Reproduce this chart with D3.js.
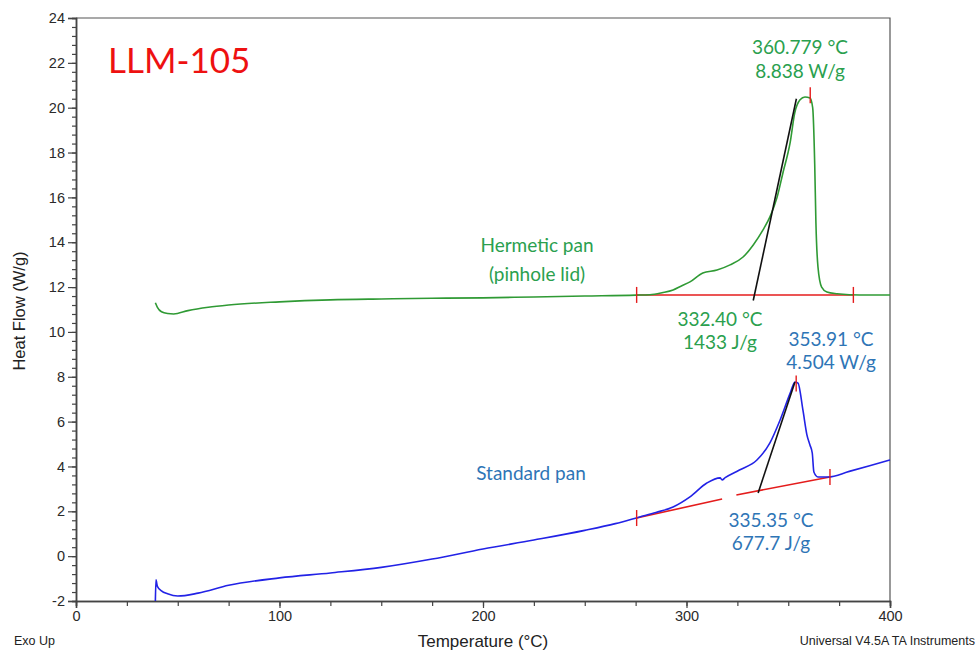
<!DOCTYPE html>
<html>
<head>
<meta charset="utf-8">
<script src="https://cdn.jsdelivr.net/npm/d3@7"></script>
<style>
  body { margin: 0; background: #fff; }
  svg { display: block; }
</style>
</head>
<body>
<svg width="978" height="657"></svg>
<script>
// hermetic pan (pinhole lid) curve
let hermeticTemp = [39, 40, 42, 45, 48, 55, 65, 75, 100, 125, 150, 175, 200, 225, 250, 275, 282, 288, 293.4, 297, 301.7, 308, 315, 321.4, 327.8, 332.8, 337.6, 341, 344.5, 347.4, 350.9, 353.2, 355.8, 358.2, 360.7, 362, 363, 363.6, 364.6, 366.4, 369, 374, 380, 390, 400]
let hermeticFlow = [11.3, 11.1, 10.9, 10.82, 10.8, 10.95, 11.1, 11.2, 11.34, 11.43, 11.47, 11.5, 11.52, 11.56, 11.6, 11.64, 11.66, 11.75, 11.87, 12.03, 12.23, 12.63, 12.76, 12.99, 13.34, 13.88, 14.55, 15.13, 16.0, 17.1, 18.43, 19.77, 20.35, 20.48, 20.43, 20.0, 17.5, 14.86, 12.9, 12.0, 11.78, 11.7, 11.66, 11.65, 11.65]

// standard pan curve
let standardTemp = [39, 39.3, 40, 42, 45, 50, 60, 75, 100, 125, 150, 175, 200, 225, 250, 265, 277, 285, 293.4, 301.7, 310, 316.5, 317.5, 319, 326, 334.6, 341, 346, 351, 353.3, 354.8, 357.2, 359.2, 360.7, 361.8, 362.6, 364.6, 369.5, 380, 390, 400]
let standardFlow = [-2.0, -1.06, -1.35, -1.55, -1.68, -1.78, -1.65, -1.3, -0.97, -0.75, -0.5, -0.13, 0.32, 0.72, 1.15, 1.45, 1.75, 1.95, 2.19, 2.64, 3.26, 3.49, 3.4, 3.5, 3.84, 4.29, 5.05, 6.07, 7.28, 7.77, 7.72, 6.52, 5.4, 4.95, 4.6, 3.75, 3.53, 3.53, 3.78, 4.03, 4.29]

// integration baselines [t1, v1, t2, v2]
let hermeticBaseline = [[275.5, 11.65, 382, 11.65]]
let standardBaseline = [[275.5, 1.7, 317.5, 2.55], [324.5, 2.73, 370.5, 3.53]]
// onset tangents
let hermeticTangent = [332.8, 11.4, 354, 20.4]
let standardTangent = [335.2, 2.82, 353.3, 7.77]
// red marks: [temp, flow]
let hermeticMarks = [[275.5, 11.65], [382, 11.65], [360.8, 20.55]]
let standardMarks = [[275.5, 1.7], [370.5, 3.53], [353.9, 7.7]]

let xTicks = [0, 100, 200, 300, 400]
let yTicks = [-2, 0, 2, 4, 6, 8, 10, 12, 14, 16, 18, 20, 22, 24]

let hermeticLabels = ["Hermetic pan", "(pinhole lid)"]
let hermeticPeakLabels = ["360.779 °C", "8.838 W/g"]
let hermeticOnsetLabels = ["332.40 °C", "1433 J/g"]
let standardLabels = ["Standard pan"]
let standardPeakLabels = ["353.91 °C", "4.504 W/g"]
let standardOnsetLabels = ["335.35 °C", "677.7 J/g"]

const green = "#2f9a34"
const greenText = "#2aa04e"
const blue = "#2222e6"
const blueText = "#2e75b6"
const red = "#e41c1c"
const axisFont = "'Liberation Sans', Arial, sans-serif"

let svg = d3.select("svg")

let xScale = d3.scaleLinear().domain([0, 400]).range([76, 890])
let yScale = d3.scaleLinear().domain([-2, 24]).range([601, 18])

// frame (top and right)
svg.append("path")
    .attr("d", `M${xScale(0)},${yScale(24)}H${xScale(400)}V${yScale(-2)}`)
    .attr("fill", "none")
    .attr("stroke", "#555")
    .attr("stroke-width", 1.2)

// minor ticks
svg.append("g")
    .attr("transform", `translate(0,${yScale(-2)})`)
    .call(d3.axisBottom(xScale).tickValues(d3.range(0, 401, 25)).tickSize(5).tickFormat(""))
svg.append("g")
    .attr("transform", `translate(${xScale(0)},0)`)
    .call(d3.axisLeft(yScale).tickValues(d3.range(-2, 24.01, 0.4)).tickSize(4).tickFormat(""))

// major axes, plain hyphen for negatives
let fmt = d => String(d)
svg.append("g")
    .attr("transform", `translate(0,${yScale(-2)})`)
    .call(d3.axisBottom(xScale).tickValues(xTicks).tickSize(7).tickPadding(3).tickFormat(fmt))
svg.append("g")
    .attr("transform", `translate(${xScale(0)},0)`)
    .call(d3.axisLeft(yScale).tickValues(yTicks).tickSize(8).tickPadding(3).tickFormat(fmt))

svg.selectAll(".domain").attr("stroke", "#444").attr("stroke-width", 1.5)
svg.selectAll(".tick line").attr("stroke", "#444").attr("stroke-width", 1.2)
svg.selectAll(".tick text")
    .attr("fill", "#2a2a2a")
    .style("font-family", axisFont)
    .style("font-size", "14.5px")

// axis titles
svg.append("text")
    .attr("transform", "translate(25,311) rotate(-90)")
    .attr("text-anchor", "middle")
    .style("font-family", axisFont)
    .style("font-size", "16.5px")
    .attr("fill", "#222")
    .text("Heat Flow (W/g)")
svg.append("text")
    .attr("x", 483).attr("y", 647)
    .attr("text-anchor", "middle")
    .style("font-family", axisFont)
    .style("font-size", "17px")
    .attr("fill", "#222")
    .text("Temperature (°C)")
svg.append("text")
    .attr("x", 14).attr("y", 645)
    .style("font-family", axisFont)
    .style("font-size", "12.5px")
    .attr("fill", "#222")
    .text("Exo Up")
svg.append("text")
    .attr("x", 975).attr("y", 645)
    .attr("text-anchor", "end")
    .style("font-family", axisFont)
    .style("font-size", "12.5px")
    .attr("fill", "#222")
    .text("Universal V4.5A TA Instruments")

let line = d3.line()
    .x(d => xScale(d[0]))
    .y(d => yScale(d[1]))
    .curve(d3.curveMonotoneX)

function drawCurve(temps, flows, color) {
    svg.append("path")
        .datum(temps.map((t, i) => [t, flows[i]]))
        .attr("d", line)
        .attr("fill", "none")
        .attr("stroke", color)
        .attr("stroke-width", 1.6)
        .attr("stroke-linejoin", "round")
}

function drawSegments(segs, color) {
    svg.selectAll(null)
        .data(segs)
        .join("line")
        .attr("x1", d => xScale(d[0]))
        .attr("y1", d => yScale(d[1]))
        .attr("x2", d => xScale(d[2]))
        .attr("y2", d => yScale(d[3]))
        .attr("stroke", color)
        .attr("stroke-width", 1.6)
}

function drawMarks(marks) {
    svg.selectAll(null)
        .data(marks)
        .join("line")
        .attr("x1", d => xScale(d[0]))
        .attr("x2", d => xScale(d[0]))
        .attr("y1", d => yScale(d[1]) - 8)
        .attr("y2", d => yScale(d[1]) + 8)
        .attr("stroke", red)
        .attr("stroke-width", 1.4)
}

drawSegments(hermeticBaseline, red)
drawSegments(standardBaseline, red)
drawCurve(hermeticTemp, hermeticFlow, green)
drawCurve(standardTemp, standardFlow, blue)
drawSegments([hermeticTangent, standardTangent], "#111")
drawMarks(hermeticMarks)
drawMarks(standardMarks)

// text labels, lines stacked
function drawLabel(lines, cx, cy, color, gap) {
    svg.append("text")
        .attr("text-anchor", "middle")
        .attr("fill", color)
        .style("font-family", "Lato, 'Open Sans', sans-serif")
        .style("font-size", "19px")
        .selectAll("tspan")
        .data(lines)
        .join("tspan")
        .attr("x", cx)
        .attr("y", (d, i) => cy + i * gap)
        .text(d => d)
}

drawLabel(hermeticPeakLabels, 800, 54, greenText, 24)
drawLabel(hermeticLabels, 537, 252, greenText, 29)
drawLabel(hermeticOnsetLabels, 720, 326, greenText, 23)
drawLabel(standardPeakLabels, 831, 346, blueText, 23)
drawLabel(standardLabels, 531, 480, blueText, 24)
drawLabel(standardOnsetLabels, 771, 527, blueText, 23)

svg.append("text")
    .attr("x", 108).attr("y", 73)
    .attr("fill", "#ee1111")
    .style("font-family", "Lato, 'Open Sans', sans-serif")
    .style("font-size", "35px")
    .text("LLM-105")
</script>
</body>
</html>
